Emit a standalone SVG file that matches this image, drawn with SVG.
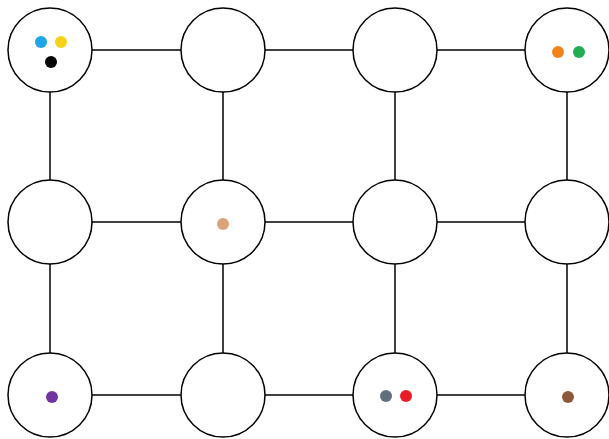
<svg xmlns="http://www.w3.org/2000/svg" width="609" height="439" viewBox="0 0 609 439">
<style>
.n{fill:#fff;stroke:#000;stroke-width:1.5}
.c line{stroke:#000;stroke-width:1.5}
</style>
<rect width="609" height="439" fill="#fff"/>
<g class="c" id="connectors">
<line x1="92" y1="50" x2="181" y2="50"/>
<line x1="265" y1="50" x2="353" y2="50"/>
<line x1="437" y1="50" x2="525" y2="50"/>
<line x1="92" y1="222" x2="181" y2="222"/>
<line x1="265" y1="222" x2="353" y2="222"/>
<line x1="437" y1="222" x2="525" y2="222"/>
<line x1="92" y1="395" x2="181" y2="395"/>
<line x1="265" y1="395" x2="353" y2="395"/>
<line x1="437" y1="395" x2="525" y2="395"/>
<line x1="50" y1="92" x2="50" y2="180"/>
<line x1="50" y1="264" x2="50" y2="353"/>
<line x1="223" y1="92" x2="223" y2="180"/>
<line x1="223" y1="264" x2="223" y2="353"/>
<line x1="395" y1="92" x2="395" y2="180"/>
<line x1="395" y1="264" x2="395" y2="353"/>
<line x1="567" y1="92" x2="567" y2="180"/>
<line x1="567" y1="264" x2="567" y2="353"/>
</g>
<g id="n1"><circle class="n" cx="50" cy="50" r="42"/><circle cx="41" cy="42" r="6" fill="#1ea6e6"/><circle cx="61" cy="42" r="6" fill="#f7d21a"/><circle cx="51" cy="62" r="6" fill="#000"/></g>
<g id="n2"><circle class="n" cx="223" cy="50" r="42"/></g>
<g id="n3"><circle class="n" cx="395" cy="50" r="42"/></g>
<g id="n4"><circle class="n" cx="567" cy="50" r="42"/><circle cx="558" cy="52" r="6" fill="#f08418"/><circle cx="579" cy="52" r="6" fill="#22ad52"/></g>
<g id="n5"><circle class="n" cx="50" cy="222" r="42"/></g>
<g id="n6"><circle class="n" cx="223" cy="222" r="42"/><circle cx="223" cy="224" r="6" fill="#dba27c"/></g>
<g id="n7"><circle class="n" cx="395" cy="222" r="42"/></g>
<g id="n8"><circle class="n" cx="567" cy="222" r="42"/></g>
<g id="n9"><circle class="n" cx="50" cy="395" r="42"/><circle cx="52" cy="397" r="6" fill="#7035a0"/></g>
<g id="n10"><circle class="n" cx="223" cy="395" r="42"/></g>
<g id="n11"><circle class="n" cx="395" cy="395" r="42"/><circle cx="386" cy="396" r="6" fill="#607080"/><circle cx="406" cy="396" r="6" fill="#e81c24"/></g>
<g id="n12"><circle class="n" cx="567" cy="395" r="42"/><circle cx="568" cy="397" r="6" fill="#8c5a3a"/></g>
</svg>
